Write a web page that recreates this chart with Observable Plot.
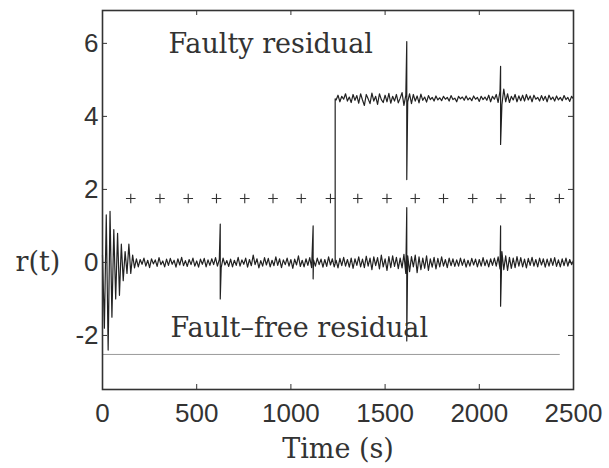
<!DOCTYPE html>
<html>
<head>
<meta charset="utf-8">
<script src="https://cdn.jsdelivr.net/npm/d3@7"></script>
<script src="https://cdn.jsdelivr.net/npm/@observablehq/plot@0.6"></script>
<style>
  html, body { margin: 0; padding: 0; background: #fff; }
</style>
</head>
<body>
<div id="chart"></div>
<script>
// ---- Data ----
const xTicks = [0, 500, 1000, 1500, 2000, 2500];
const yTicks = [-2, 0, 2, 4, 6];

// Fault-free residual, sampled every 10 s from 0 to 2500 s
const ffStart = 0, ffStep = 10;
const ffValues = [
  0.2,-1.8,1.3,-2.4,1.4,-1.5,0.9,-1.0,0.8,-0.9,0.5,-0.5,0.3,-0.3,0.5,-0.3,0.2,-0.15,
  0.1,-0.12,0.08,-0.05,0.12,-0.1,0.06,-0.14,0.1,-0.04,
  0.07,-0.11,0.13,-0.06,0.04,-0.12,0.09,-0.08,0.11,-0.05,
  0.06,-0.13,0.1,-0.07,0.14,-0.09,0.05,-0.11,0.08,-0.06,
  0.12,-0.1,0.04,-0.13,0.09,-0.05,0.11,-0.12,0.07,-0.08,
  0.1,-0.06,0.13,-0.1,0.08,-0.14,0.12,-0.07,0.05,-0.11,
  0.09,-0.12,0.06,-0.08,0.14,-0.1,0.07,-0.05,0.12,-0.13,
  0.08,-0.09,0.2,-0.06,0.1,-0.15,0.05,-0.1,0.13,-0.07,
  0.11,-0.12,0.06,-0.09,0.15,-0.08,0.1,-0.14,0.07,-0.06,
  0.12,-0.1,0.08,-0.16,0.09,-0.07,0.18,-0.11,0.06,-0.12,
  0.1,-0.08,0.13,-0.14,0.07,-0.1,0.12,-0.06,0.09,-0.13,
  0.08,-0.11,0.15,-0.07,0.1,-0.12,0.06,-0.15,0.11,-0.09,
  0.14,-0.1,0.08,-0.13,0.12,-0.16,0.1,-0.08,0.15,-0.12,
  0.09,-0.14,0.17,-0.1,0.12,-0.2,0.15,-0.09,0.13,-0.18,
  0.2,-0.12,0.1,-0.22,0.16,-0.14,0.18,-0.11,0.14,-0.17,
  0.12,-0.15,0.22,-0.3,0.18,-0.25,0.16,-0.12,0.2,-0.28,
  0.15,-0.2,0.12,-0.16,0.18,-0.22,0.1,-0.13,0.14,-0.18,
  0.11,-0.12,0.15,-0.1,0.08,-0.14,0.12,-0.09,0.1,-0.11,
  0.07,-0.1,0.12,-0.08,0.09,-0.13,0.06,-0.1,0.11,-0.07,
  0.09,-0.12,0.08,-0.1,0.13,-0.09,0.07,-0.12,0.1,-0.08,
  0.12,-0.1,0.15,-0.18,0.3,-0.2,0.18,-0.22,0.14,-0.16,
  0.12,-0.14,0.16,-0.1,0.13,-0.12,0.09,-0.15,0.11,-0.08,
  0.14,-0.1,0.08,-0.12,0.12,-0.07,0.1,-0.13,0.09,-0.1,
  0.11,-0.08,0.13,-0.11,0.07,-0.12,0.1,-0.09,0.12,-0.1,
  0.08,-0.06,0.05
];
const ffSpikeT  = [625, 1118, 1615, 2113];
const ffSpikeHi = [1.05, 1.0, 1.5, 1.0];
const ffSpikeLo = [-1.0, -0.45, -2.15, -1.2];

// Faulty residual: step at 1235 s, then sampled every 10 s from 1240 to 2500 s
const fStepT = [1235, 1235];
const fStepV = [0, 4.48];
const fStart = 1240, fStep = 10;
const fValues = [
  4.45,4.58,4.4,4.55,4.47,4.62,4.42,4.53,4.38,4.6,
  4.44,4.57,4.36,4.62,4.45,4.3,4.6,4.48,4.35,4.64,
  4.42,4.55,4.33,4.62,4.46,4.38,4.58,4.4,4.63,4.36,
  4.55,4.42,4.6,4.37,4.5,4.65,4.3,4.58,4.4,4.62,
  4.35,4.6,4.42,4.56,4.37,4.61,4.44,4.53,4.39,4.57,
  4.46,4.52,4.42,4.56,4.45,4.51,4.43,4.55,4.47,4.52,
  4.42,4.57,4.46,4.5,4.4,4.55,4.48,4.53,4.44,4.56,
  4.45,4.51,4.43,4.56,4.47,4.52,4.41,4.55,4.46,4.53,
  4.44,4.58,4.4,4.55,4.47,4.6,4.38,4.7,4.32,4.75,
  4.4,4.62,4.38,4.55,4.45,4.6,4.4,4.56,4.43,4.58,
  4.42,4.6,4.45,4.56,4.4,4.58,4.47,4.52,4.42,4.57,
  4.44,4.55,4.4,4.58,4.46,4.53,4.42,4.56,4.45,4.52,
  4.43,4.57,4.46,4.52,4.41,4.55,4.48
];
const fSpikeT  = [1615, 2113];
const fSpikeHi = [6.05, 5.37];
const fSpikeLo = [2.27, 3.23];

// "+" markers of the threshold row
const markT = [150,305,455,605,755,905,1055,1210,1355,1510,1660,1810,1965,2115,2270,2425];
const markV = [1.75,1.75,1.75,1.75,1.75,1.75,1.75,1.75,1.75,1.75,1.75,1.75,1.75,1.75,1.75,1.75];

// thin horizontal line under the fault-free label
const lineT = [0, 2425];
const lineV = [-2.52, -2.52];

// annotations
const labelText = ["Faulty residual", "Fault\u2013free residual"];
const labelT = [350, 361];
const labelV = [5.73, -2.03];

// ---- Build tables ----
function buildSeries(start, step, values, spT, spHi, spLo, prefix) {
  const rows = prefix ? prefix.slice() : [];
  const samples = values.map((v, i) => ({t: start + i * step, v}));
  const spikes = spT.map((t, i) => ({t, hi: spHi[i], lo: spLo[i]}));
  let s = 0;
  for (const p of samples) {
    while (s < spikes.length && spikes[s].t < p.t) {
      rows.push({t: spikes[s].t, v: spikes[s].hi});
      rows.push({t: spikes[s].t, v: spikes[s].lo});
      s++;
    }
    rows.push(p);
  }
  return rows;
}
const ffData = buildSeries(ffStart, ffStep, ffValues, ffSpikeT, ffSpikeHi, ffSpikeLo);
const fData = buildSeries(fStart, fStep, fValues, fSpikeT, fSpikeHi, fSpikeLo,
  fStepT.map((t, i) => ({t, v: fStepV[i]})));
const marks = markT.map((t, i) => ({t, v: markV[i]}));
const thr = lineT.map((t, i) => ({t, v: lineV[i]}));
const labels = labelText.map((s, i) => ({s, t: labelT[i], v: labelV[i]}));

const sans = "Liberation Sans, Arial, sans-serif";
const serif = "DejaVu Serif, serif";

const W = 609, H = 468, ML = 102, MR = 36, MT = 10, MB = 79;
const frameW = W - ML - MR, frameH = H - MT - MB, tick = 5;

const chart = Plot.plot({
  width: W,
  height: H,
  marginLeft: ML,
  marginRight: MR,
  marginTop: MT,
  marginBottom: MB,
  style: {background: "#fff", color: "#333"},
  x: {domain: [0, 2500]},
  y: {domain: [-3.48, 6.9]},
  marks: [
    Plot.line(thr, {x: "t", y: "v", stroke: "#9a9a9a", strokeWidth: 1}),
    Plot.line(ffData, {x: "t", y: "v", stroke: "#222", strokeWidth: 1.2}),
    Plot.line(fData, {x: "t", y: "v", stroke: "#222", strokeWidth: 1.2}),
    Plot.dot(marks, {x: "t", y: "v", symbol: "plus", r: 3.2, stroke: "#333", strokeWidth: 1.1}),
    Plot.text(labels, {x: "t", y: "v", text: "s", textAnchor: "start", lineAnchor: "bottom",
      fontFamily: serif, fontSize: 27, fill: "#333"}),
    Plot.frame({stroke: "#333", strokeWidth: 1.6}),
    // inward tick marks on all four sides
    Plot.tickX(xTicks, {x: d => d, stroke: "#333", insetTop: frameH - tick}),
    Plot.tickX(xTicks, {x: d => d, stroke: "#333", insetBottom: frameH - tick}),
    Plot.tickY(yTicks, {y: d => d, stroke: "#333", insetRight: frameW - tick}),
    Plot.tickY(yTicks, {y: d => d, stroke: "#333", insetLeft: frameW - tick}),
    Plot.axisX(xTicks, {tickSize: 0, tickPadding: 14, tickFormat: d => String(d),
      fontSize: 26, fontFamily: sans, label: null}),
    Plot.axisY(yTicks, {tickSize: 0, tickPadding: 4, tickFormat: d => String(d),
      fontSize: 26, fontFamily: sans, label: null}),
    Plot.text(["r(t)"], {y: [0], frameAnchor: "left", dx: -87, textAnchor: "start",
      fontFamily: serif, fontSize: 27, fill: "#333"}),
    Plot.text(["Time (s)"], {frameAnchor: "bottom", dy: 68, lineAnchor: "bottom",
      fontFamily: serif, fontSize: 27, fill: "#333"})
  ]
});
document.getElementById("chart").appendChild(chart);
</script>
</body>
</html>
